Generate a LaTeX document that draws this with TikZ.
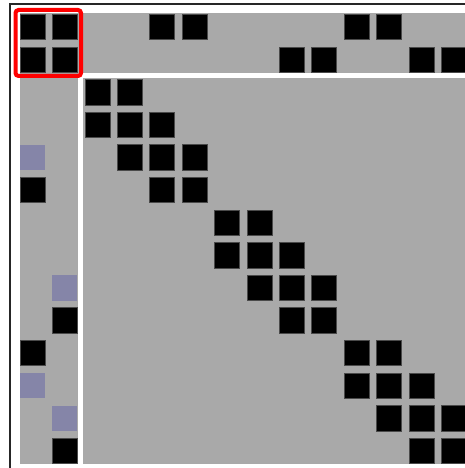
\documentclass[tikz,border=0pt]{standalone}
\usetikzlibrary{calc}
\definecolor{matgray}{HTML}{A9A9A9}
\definecolor{fillblue}{HTML}{8585A8}
\definecolor{pivred}{HTML}{FF0000}
\definecolor{edgegray}{HTML}{4A4A4A}

\begin{document}
\begin{tikzpicture}[x=1pt, y=-1pt,
  nzcell/.style={fill=black, draw=edgegray, line width=0.5pt},
  fillcell/.style={fill=fillblue},
  splitline/.style={white, line width=5pt},
  pivbox/.style={draw=pivred, line width=4pt, rounded corners=3pt}]

\useasboundingbox (0,0) rectangle (465,468);

% Background
\fill[matgray] (20,12.7) rectangle (465,463.7);
\draw[black!85, line width=1.2pt] (10,468) -- (10,4) -- (465,4);

% Block separators
\draw[splitline] (80.8,73) -- (80.8,463.7);
\draw[splitline] (78,75.8) -- (465,75.8);

% --- Nonzero entries (row / columns) ---
\foreach \r/\cl in {0/{0,1,4,5,10,11}, 1/{0,1,8,9,12,13},
                    2/{2,3}, 3/{2,3,4}, 4/{3,4,5}, 5/{0,4,5},
                    6/{6,7}, 7/{6,7,8}, 8/{7,8,9}, 9/{1,8,9},
                    10/{0,10,11}, 11/{10,11,12}, 12/{11,12,13}, 13/{1,12,13}}
  \foreach \c in \cl
    \fill[nzcell] (20+32.4*\c, 14.3+32.6*\r) rectangle ++(25,25.4);

% --- Fill-in entries ---
\foreach \r/\c in {4/0, 8/1, 11/0, 12/1}
  \fill[fillcell] (20+32.4*\c, 14.3+32.6*\r) rectangle ++(25,25.4);

% Pivot block
\draw[pivbox] (15.5,10) rectangle (81,76);

\end{tikzpicture}
\end{document}
